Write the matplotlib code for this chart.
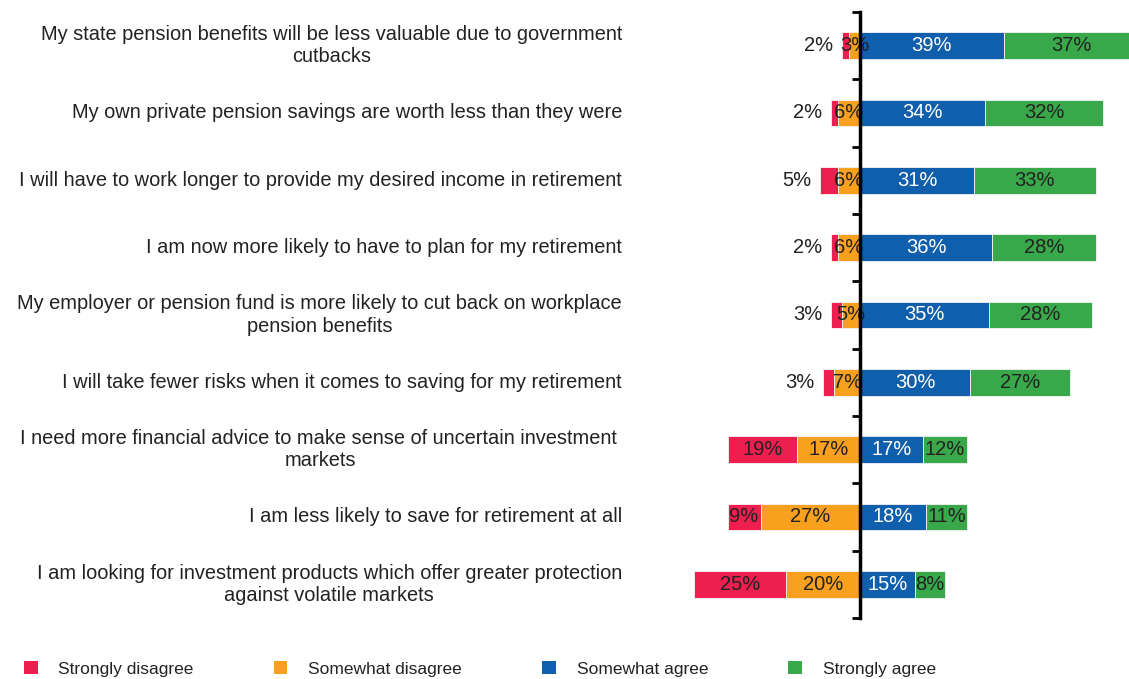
import matplotlib.pyplot as plt
import matplotlib.transforms as mtransforms
from matplotlib.patches import Patch
import numpy as np

plt.rcParams['font.family'] = ['Liberation Sans', 'DejaVu Sans']

statements = [
    "My state pension benefits will be less valuable due to government\ncutbacks",
    "My own private pension savings are worth less than they were",
    "I will have to work longer to provide my desired income in retirement",
    "I am now more likely to have to plan for my retirement",
    "My employer or pension fund is more likely to cut back on workplace\npension benefits",
    "I will take fewer risks when it comes to saving for my retirement",
    "I need more financial advice to make sense of uncertain investment \nmarkets",
    "I am less likely to save for retirement at all",
    "I am looking for investment products which offer greater protection\nagainst volatile markets",
]
strongly_disagree = [2, 2, 5, 2, 3, 3, 19, 9, 25]
somewhat_disagree = [3, 6, 6, 6, 5, 7, 17, 27, 20]
somewhat_agree = [39, 34, 31, 36, 35, 30, 17, 18, 15]
strongly_agree = [37, 32, 33, 28, 28, 27, 12, 11, 8]
legend_labels = ["Strongly disagree", "Somewhat disagree", "Somewhat agree", "Strongly agree"]

RED = '#ee1f4f'
ORANGE = '#f9a01f'
BLUE = '#0f5fac'
GREEN = '#39a84a'
TEXT = '#222222'

fig = plt.figure(figsize=(11.29, 6.79), dpi=100)
ax = fig.add_axes([640 / 1129, 61 / 679, 489 / 1129, 606 / 679])

y = np.arange(len(statements))
sd = np.array(strongly_disagree)
swd = np.array(somewhat_disagree)
swa = np.array(somewhat_agree)
sa = np.array(strongly_agree)

h = 0.4
edge = dict(edgecolor='#f4f4f4', linewidth=0.6)
ax.barh(y, -sd, left=-swd, height=h, color=RED, **edge)
ax.barh(y, -swd, left=0, height=h, color=ORANGE, **edge)
ax.barh(y, swa, left=0, height=h, color=BLUE, **edge)
ax.barh(y, sa, left=swa, height=h, color=GREEN, **edge)

fs = 14.5
for i in y:
    # small red segments get their label just outside the bar
    if sd[i] < 6:
        ax.annotate(f"{sd[i]}%", (-(sd[i] + swd[i]), i), xytext=(-6, 0),
                    textcoords='offset points', ha='right', va='center',
                    fontsize=fs, color=TEXT)
    else:
        ax.text(-swd[i] - sd[i] / 2, i, f"{sd[i]}%", ha='center', va='center',
                fontsize=fs, color=TEXT)
    ax.text(-swd[i] / 2, i, f"{swd[i]}%", ha='center', va='center',
            fontsize=fs, color=TEXT)
    ax.text(swa[i] / 2, i, f"{swa[i]}%", ha='center', va='center',
            fontsize=fs, color='white')
    ax.text(swa[i] + sa[i] / 2, i, f"{sa[i]}%", ha='center', va='center',
            fontsize=fs, color=TEXT, clip_on=True)

ax.set_xlim((640 - 860) / 3.68, (1129 - 860) / 3.68)
ax.set_ylim(len(statements) - 0.5, -0.5)

# category labels sit well left of the axes
trans = mtransforms.blended_transform_factory(fig.transFigure, ax.transData)
for i, s in enumerate(statements):
    ax.text(622 / 1129, i, s, transform=trans, ha='right', va='center',
            multialignment='center', fontsize=14.4, color=TEXT, linespacing=1.22)

for side in ['top', 'right', 'bottom']:
    ax.spines[side].set_visible(False)
ax.spines['left'].set_position(('data', 0))
ax.spines['left'].set_linewidth(2.5)
ax.spines['left'].set_zorder(5)
ax.set_xticks([])
ax.set_yticks(np.arange(-0.5, len(statements)))
ax.set_yticklabels([])
ax.tick_params(axis='y', direction='out', length=5.5, width=2)

handles = [Patch(facecolor=c, edgecolor='none') for c in [RED, ORANGE, BLUE, GREEN]]
fig.legend(handles, legend_labels, loc='center left', bbox_to_anchor=(8 / 1129, 10 / 679),
           ncol=4, frameon=False, fontsize=12.5, handlelength=0.8, handleheight=0.8,
           handletextpad=1.2, columnspacing=4.6, labelcolor=TEXT)

fig.savefig('out.png', dpi=100)
